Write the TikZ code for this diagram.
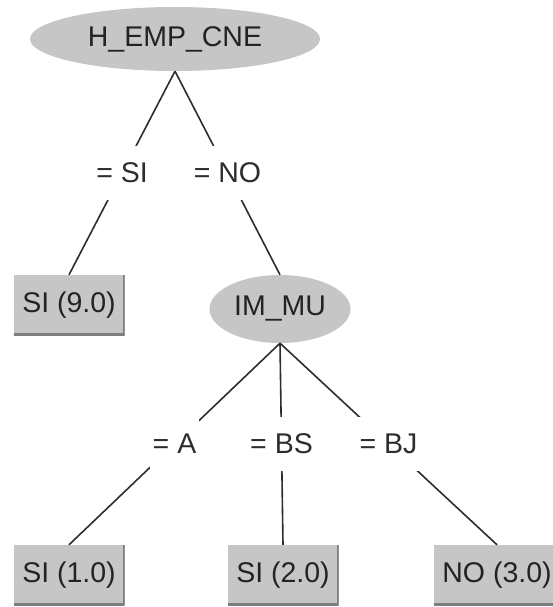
\documentclass[tikz,border=0pt]{standalone}
\usepackage{fontspec}
\setmainfont{Liberation Sans}
\usetikzlibrary{shapes.geometric}
\definecolor{cNode}{RGB}{198,198,198}
\definecolor{cShade}{RGB}{125,125,125}
\definecolor{cEdge}{RGB}{45,45,45}
\definecolor{cText}{RGB}{35,35,35}
\tikzset{
	split/.style ={ellipse, fill=cNode, minimum width=141pt, minimum height=68pt, inner sep=0pt},
	leaf/.style  ={rectangle, fill=cNode, minimum width=111pt, minimum height=60pt, inner sep=0pt,
		path picture={\draw[cShade, line width=4pt] (path picture bounding box.south west) -- (path picture bounding box.south east) -- (path picture bounding box.north east);}},
	cond/.style  ={fill=white, minimum height=54pt, inner sep=3pt},
	branch/.style={cEdge, line width=1.6pt},
}
\begin{document}
\begin{tikzpicture}[x=1pt, y=-1pt, font=\fontsize{28.5}{34}\selectfont, text=cText]
	\useasboundingbox (0,0) rectangle (553,607);
	% tree nodes
	\node[split, minimum width=290pt, minimum height=64pt] (root) at (175,39) {H\_EMP\_CNE};
	\node[leaf] (si9) at (69,305) {SI (9.0)};
	\node[split] (immu) at (280,309) {IM\_MU};
	\node[leaf] (si1) at (69,575) {SI (1.0)};
	\node[leaf] (si2) at (283,575) {SI (2.0)};
	\node[leaf, minimum width=127pt] (no3) at (497,575) {NO (3.0)};
	% branches, the test value sits halfway on a white patch
	\draw[branch] (root.south) -- node[cond] (tSI) {= SI} (si9.north);
	\draw[branch] (root.south) -- node[cond] (tNO) {= NO} (immu.north);
	\foreach \leafname/\val in {si1/A, si2/BS, no3/BJ}
	\draw[branch] (immu.south) -- node[cond] (t\val) {= \val} (\leafname.north);
\end{tikzpicture}
\end{document}
